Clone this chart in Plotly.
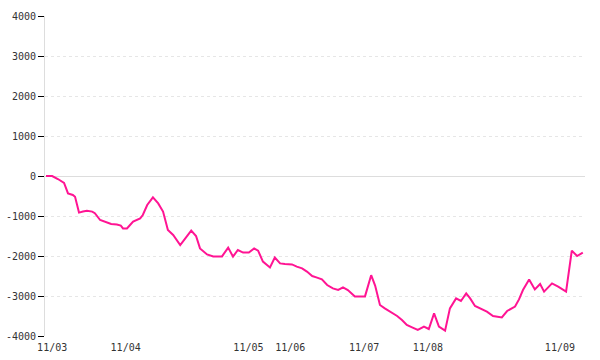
import plotly.graph_objects as go

# sample position (index units) and value
positions = [0, 1.4, 2.7, 3.6, 4.1, 5.0, 6.1, 6.6, 7.5, 8.4, 9.3, 10.5, 11.1, 12.3, 13.4,
             14.8, 16.1, 17.0, 17.5, 18.4, 19.1, 19.8, 21.4, 22.0, 23.0, 24.3, 25.5, 26.6,
             27.7, 28.9, 30.5, 31.6, 33.0, 34.1, 35.0, 36.6, 38.0, 40.0, 41.4, 42.5, 43.6,
             44.8, 46.1, 47.3, 48.2, 49.3, 50.9, 52.0, 53.2, 54.3, 55.9, 57.0, 58.2, 59.3,
             60.5, 61.6, 62.7, 63.9, 65.2, 66.4, 67.5, 68.6, 70.2, 72.5, 73.9, 74.8, 75.9,
             77.0, 78.6, 79.8, 80.9, 82.0, 83.2, 84.5, 85.9, 87.0, 88.2, 89.3, 90.7, 91.8,
             93.2, 94.3, 95.5, 96.4, 97.5, 99.1, 100.2, 101.6, 103.6, 104.8, 106.6, 107.5,
             108.4, 109.8, 111.1, 112.3, 113.2, 115.0, 116.4, 118.2, 119.5, 120.7, 122.0]
values = [0, 0, -75, -125, -170, -435, -475, -520, -915, -890, -870, -890, -930, -1100, -1140,
          -1200, -1215, -1240, -1310, -1310, -1225, -1140, -1060, -975, -725, -535, -685, -890,
          -1350, -1475, -1725, -1560, -1365, -1500, -1810, -1960, -2010, -2010, -1790, -2015, -1850,
          -1915, -1915, -1810, -1865, -2140, -2285, -2040, -2185, -2200, -2210, -2265, -2310, -2390,
          -2500, -2540, -2585, -2725, -2810, -2850, -2785, -2850, -3010, -3010, -2480, -2740, -3225,
          -3310, -3415, -3500, -3600, -3725, -3785, -3850, -3765, -3825, -3435, -3765, -3865, -3310,
          -3060, -3125, -2935, -3060, -3250, -3335, -3390, -3500, -3535, -3375, -3265, -3085,
          -2850, -2585, -2835, -2700, -2890, -2685, -2765, -2890, -1865, -2000, -1915]

tick_positions = [1.4, 18.1, 46.0, 55.5, 72.3, 86.8, 116.8]
tick_labels = ["11/03", "11/04", "11/05", "11/06", "11/07", "11/08", "11/09"]
y_ticks = [-4000, -3000, -2000, -1000, 0, 1000, 2000, 3000, 4000]

fig = go.Figure()
fig.add_trace(go.Scatter(
    x=positions, y=values, mode="lines",
    line=dict(color="#ff1493", width=2),
    hoverinfo="skip",
))

font = dict(family="DejaVu Sans Mono", size=10, color="#333333")
fig.update_layout(
    width=600, height=360,
    margin=dict(l=45, r=15, t=16, b=24),
    paper_bgcolor="white", plot_bgcolor="white",
    showlegend=False,
    font=font,
    xaxis=dict(
        range=[-0.23, 122.5], automargin=False,
        tickmode="array", tickvals=tick_positions, ticktext=tick_labels,
        showgrid=False, zeroline=False, showline=False,
        ticks="", tickfont=font, ticklabelstandoff=4,
    ),
    yaxis=dict(
        range=[-4000, 4000], automargin=False,
        tickmode="array", tickvals=y_ticks, ticktext=[str(v) for v in y_ticks],
        showgrid=True, gridcolor="#e6e6e6", griddash="dot", gridwidth=1,
        zeroline=True, zerolinecolor="#dddddd", zerolinewidth=1,
        showline=True, linecolor="#dddddd", linewidth=1,
        ticks="outside", ticklen=6, tickcolor="#000000", tickwidth=1,
        tickfont=font,
    ),
)

fig.write_html("out.html")
